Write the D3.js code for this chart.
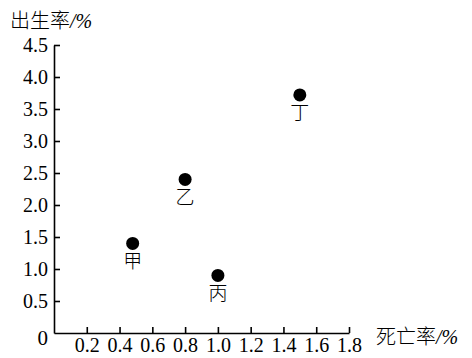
<!DOCTYPE html>
<html>
<head>
<meta charset="utf-8">
<script src="https://cdn.jsdelivr.net/npm/d3@7"></script>
<style>
  body { margin: 0; background: #fff; }
  svg { display: block; }
</style>
</head>
<body>
<svg id="chart" width="472" height="358"></svg>
<script>
// data
var names = ["甲", "乙", "丙", "丁"];
var deathRate = [0.48, 0.8, 1.0, 1.5];
var birthRate = [1.4, 2.4, 0.9, 3.72];
var xTicks = [0.2, 0.4, 0.6, 0.8, 1.0, 1.2, 1.4, 1.6, 1.8];
var yTicks = [0.5, 1.0, 1.5, 2.0, 2.5, 3.0, 3.5, 4.0, 4.5];

var svg = d3.select('svg#chart');
var numFont = "'Liberation Serif', 'Times New Roman', serif";
var cjkFont = "'Noto Sans CJK SC', sans-serif";

var x = d3.scaleLinear().domain([0, 1.8]).range([54, 349]);
var y = d3.scaleLinear().domain([0, 4.5]).range([333, 45]);

function styleAxis(g){
    g.selectAll('path, line').attr('stroke', '#000').attr('stroke-width', 1.6);
    g.selectAll('text').attr('font-family', numFont).attr('font-size', 20).attr('fill', '#000');
}

// x axis, ticks pointing up
var xAxis = d3.axisBottom(x).tickValues(xTicks).tickFormat(d3.format('.1f'))
    .tickSizeInner(-6).tickSizeOuter(0).tickPadding(5);
var gx = svg.append('g').attr('transform', 'translate(0,' + y(0) + ')').call(xAxis);
styleAxis(gx);

// y axis, ticks pointing right
var yAxis = d3.axisLeft(y).tickValues(yTicks).tickFormat(d3.format('.1f'))
    .tickSizeInner(-6).tickSizeOuter(0).tickPadding(6);
var gy = svg.append('g').attr('transform', 'translate(' + x(0) + ',0)').call(yAxis);
styleAxis(gy);

// origin label
svg.append('text').attr('x', x(0) - 6).attr('y', y(0) + 12)
    .attr('text-anchor', 'end').attr('font-family', numFont).attr('font-size', 21)
    .text('0');

// axis titles
var yt = svg.append('text').attr('x', 10).attr('y', 28).attr('font-size', 20);
yt.append('tspan').attr('font-family', cjkFont).attr('font-weight', 300).text('出生率');
yt.append('tspan').attr('font-family', numFont).attr('font-style', 'italic').text('/%');

var xt = svg.append('text').attr('x', 376).attr('y', 344).attr('font-size', 20);
xt.append('tspan').attr('font-family', cjkFont).attr('font-weight', 300).text('死亡率');
xt.append('tspan').attr('font-family', numFont).attr('font-style', 'italic').text('/%');

// points and their names
var pts = svg.append('g');
for (var i = 0; i < names.length; i += 1){
    pts.append('circle')
        .attr('cx', x(deathRate[i])).attr('cy', y(birthRate[i])).attr('r', 6.5)
        .attr('fill', '#000');
    pts.append('text')
        .attr('x', x(deathRate[i])).attr('y', y(birthRate[i]) + 25)
        .attr('text-anchor', 'middle').attr('font-family', cjkFont).attr('font-weight', 300)
        .attr('font-size', 19)
        .text(names[i]);
}
</script>
</body>
</html>
